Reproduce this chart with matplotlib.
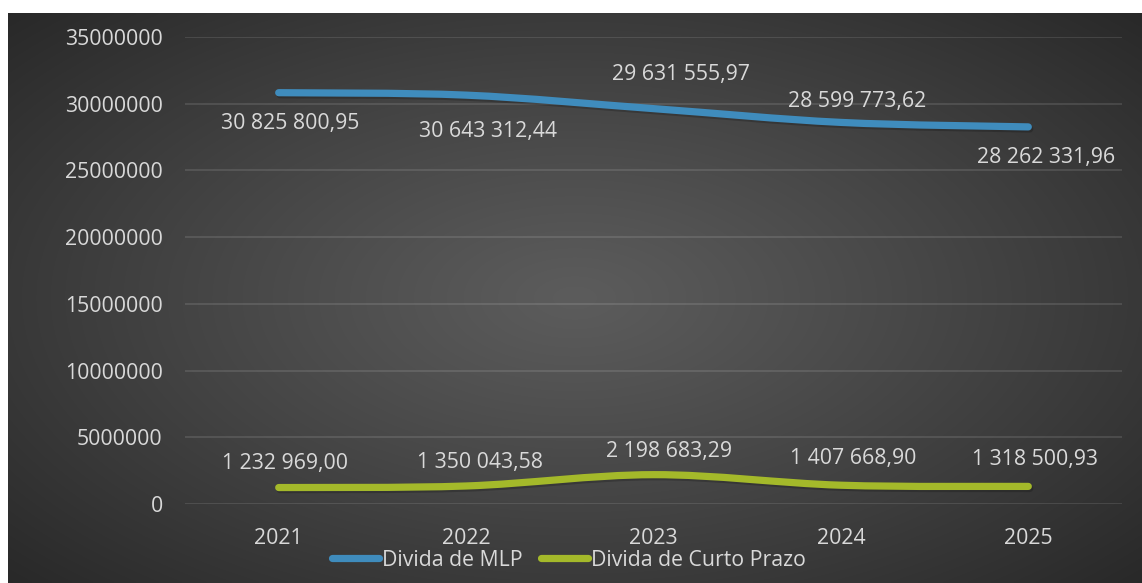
import numpy as np
import matplotlib
matplotlib.use("Agg")
import matplotlib.pyplot as plt
from matplotlib.path import Path
from matplotlib.patches import PathPatch
from matplotlib.lines import Line2D
import matplotlib.patheffects as pe

plt.rcParams['font.family'] = ['Open Sans', 'DejaVu Sans']

years = ["2021", "2022", "2023", "2024", "2025"]
divida_mlp = [30825800.95, 30643312.44, 29631555.97, 28599773.62, 28262331.96]
divida_curto = [1232969.00, 1350043.58, 2198683.29, 1407668.90, 1318500.93]
series_names = ["Divida de MLP", "Divida de Curto Prazo"]
yticks = [0, 5000000, 10000000, 15000000, 20000000, 25000000, 30000000, 35000000]

blue = "#3f8cbd"
green = "#a4b92a"
txt = "#d9d9d9"
FS = 15.3

W, H = 1142, 583
fig = plt.figure(figsize=(W / 100, H / 100), dpi=100, facecolor="white")

# background panel with radial gradient
bg = fig.add_axes([8 / W, 0, 1 - 8 / W, 1 - 13 / H])
bg.set_axis_off()
gx = np.linspace(-1, 1, 400)
gy = np.linspace(-1, 1, 200)
X, Y = np.meshgrid(gx, gy)
R = np.clip(np.sqrt((X / 1.0) ** 2 + ((Y + 0.0) / 1.05) ** 2), 0, 1.45) / 1.45
c_in = np.array([0x5c, 0x5c, 0x5c]) / 255
c_out = np.array([0x26, 0x26, 0x26]) / 255
img = c_in[None, None, :] * (1 - R[..., None] ** 1.1) + c_out[None, None, :] * (R[..., None] ** 1.1)
bg.imshow(img, aspect="auto", extent=[0, 1, 0, 1], interpolation="bilinear")
bg.set_xlim(0, 1)
bg.set_ylim(0, 1)

ax = fig.add_axes([185 / W, 79 / H, 937 / W, 467 / H])
ax.patch.set_alpha(0)
ax.set_xlim(-0.5, len(years) - 0.5)
ax.set_ylim(0, 35000000)
ax.set_yticks(yticks)
ax.set_yticklabels([str(v) for v in yticks])
ax.set_xticks(range(len(years)))
ax.set_xticklabels(years)
ax.tick_params(length=0, colors=txt, labelsize=FS)
ax.tick_params(axis="y", pad=16)
ax.tick_params(axis="x", pad=17)
for s in ax.spines.values():
    s.set_visible(False)
ax.grid(axis="y", color="white", alpha=0.13, lw=1.2)
ax.set_axisbelow(True)


def smooth_path(xs, ys):
    pts = np.column_stack([xs, ys]).astype(float)
    n = len(pts)
    verts = [pts[0]]
    codes = [Path.MOVETO]
    for i in range(n - 1):
        p0 = pts[i - 1] if i > 0 else pts[i]
        p1 = pts[i]
        p2 = pts[i + 1]
        p3 = pts[i + 2] if i + 2 < n else pts[i + 1]
        c1 = p1 + (p2 - p0) / 6.0
        c2 = p2 - (p3 - p1) / 6.0
        verts += [c1, c2, p2]
        codes += [Path.CURVE4] * 3
    return Path(verts, codes)


xs = np.arange(len(years))
shadow = [pe.SimpleLineShadow(offset=(1, -1.5), shadow_color="black", alpha=0.2), pe.Normal()]
for vals, col in [(divida_mlp, blue), (divida_curto, green)]:
    patch = PathPatch(smooth_path(xs, vals), facecolor="none", edgecolor=col, lw=5.2,
                      capstyle="round", joinstyle="round", zorder=3)
    patch.set_path_effects(shadow)
    ax.add_patch(patch)


def fmt(v):
    s = f"{v:,.2f}"
    return s.replace(",", " ").replace(".", ",")


mlp_off = [(11, -31), (22, -36), (28, 34), (16, 21), (18, -31)]
curto_off = [(6, 24), (14, 23), (16, 23), (12, 27), (7, 27)]
for vals, offs in [(divida_mlp, mlp_off), (divida_curto, curto_off)]:
    for i, v in enumerate(vals):
        ax.annotate(fmt(v), (i, v), xytext=offs[i], textcoords="offset pixels",
                    ha="center", va="center", color=txt, fontsize=FS, zorder=4)

handles = [Line2D([], [], color=blue, lw=5.2, solid_capstyle="round"),
           Line2D([], [], color=green, lw=5.2, solid_capstyle="round")]
leg = fig.legend(handles, series_names, loc="center", bbox_to_anchor=(569 / W, 23 / H),
                 ncol=2, frameon=False, fontsize=FS, handlelength=2.2, handletextpad=0.12,
                 columnspacing=0.9, labelcolor=txt)

fig.savefig("out.png", dpi=100, facecolor="white")
